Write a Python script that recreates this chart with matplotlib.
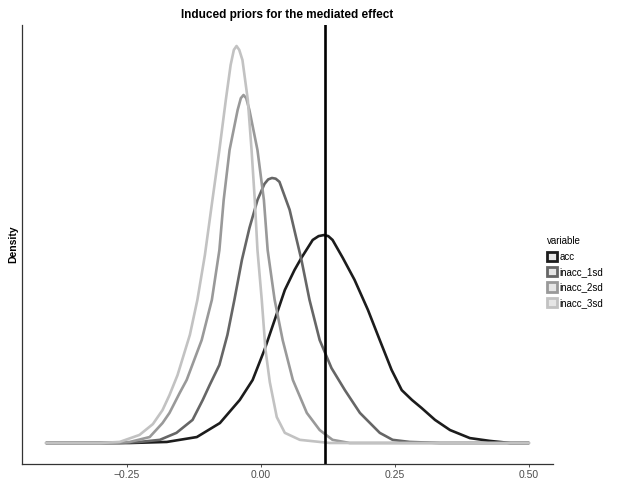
import numpy as np
import matplotlib.pyplot as plt
from matplotlib.patches import Rectangle

plt.rcParams['font.family'] = ['Liberation Sans', 'DejaVu Sans']

# values (effect size, density)
acc_x = [-0.40, -0.244, -0.175, -0.119, -0.076, -0.039, -0.015, 0.007, 0.026, 0.045, 0.063, 0.076,
         0.097, 0.108, 0.118, 0.126, 0.134, 0.153, 0.175, 0.200, 0.222, 0.244, 0.263, 0.282, 0.300,
         0.325, 0.353, 0.390, 0.427, 0.465, 0.50]
acc_y = [0, 0, 0.03, 0.17, 0.57, 1.23, 1.80, 2.66, 3.51, 4.37, 4.94, 5.29,
         5.80, 5.91, 5.94, 5.91, 5.80, 5.29, 4.66, 3.80, 2.94, 2.09, 1.51, 1.23, 1.00,
         0.66, 0.37, 0.14, 0.06, 0, 0]

sd1_x = [-0.40, -0.263, -0.226, -0.188, -0.157, -0.127, -0.108, -0.095, -0.077, -0.062, -0.049,
         -0.035, -0.021, -0.006, 0.007, 0.014, 0.021, 0.028, 0.035, 0.054, 0.065, 0.076, 0.091,
         0.110, 0.132, 0.157, 0.185, 0.222, 0.246, 0.278, 0.334, 0.50]
sd1_y = [0, 0, 0.03, 0.09, 0.29, 0.66, 1.23, 1.66, 2.23, 3.09, 4.09,
         5.23, 6.14, 6.94, 7.40, 7.53, 7.57, 7.55, 7.46, 6.66, 5.94, 5.23, 4.09,
         2.94, 2.14, 1.51, 0.86, 0.29, 0.09, 0.03, 0, 0]

sd2_x = [-0.40, -0.282, -0.244, -0.207, -0.183, -0.170, -0.151, -0.138, -0.110, -0.091, -0.077,
         -0.069, -0.058, -0.043, -0.037, -0.032, -0.027, -0.021, -0.006, 0.006, 0.013, 0.026,
         0.041, 0.060, 0.086, 0.110, 0.134, 0.166, 0.50]
sd2_y = [0, 0, 0.03, 0.17, 0.57, 0.86, 1.43, 1.80, 2.94, 4.09, 5.51,
         6.94, 8.37, 9.51, 9.85, 9.94, 9.85, 9.51, 8.37, 6.94, 5.51, 4.09,
         2.94, 1.80, 0.86, 0.37, 0.09, 0, 0]

sd3_x = [-0.40, -0.300, -0.263, -0.226, -0.201, -0.183, -0.170, -0.155, -0.132, -0.118, -0.104,
         -0.090, -0.077, -0.065, -0.056, -0.050, -0.045, -0.040, -0.034, -0.024, -0.017, -0.011,
         -0.006, 0.002, 0.009, 0.017, 0.030, 0.045, 0.073, 0.129, 0.50]
sd3_y = [0, 0, 0.03, 0.23, 0.54, 0.94, 1.37, 1.94, 3.09, 4.09, 5.37,
         6.94, 8.37, 9.80, 10.80, 11.23, 11.34, 11.23, 10.94, 9.80, 8.37, 6.94,
         5.51, 4.09, 2.66, 1.74, 0.74, 0.29, 0.09, 0, 0]

labels = ['acc', 'inacc_1sd', 'inacc_2sd', 'inacc_3sd']
colors = ['#1c1c1c', '#666666', '#999999', '#c2c2c2']
vline_x = 0.12

fig = plt.figure(figsize=(6.23, 4.8), dpi=100)
ax = fig.add_axes([22 / 623, 16 / 480, 531 / 623, 439 / 480])

series = [(acc_x, acc_y), (sd1_x, sd1_y), (sd2_x, sd2_y), (sd3_x, sd3_y)]
for (x, y), c in zip(series, colors):
    ax.plot(x, y, color=c, lw=1.9, solid_joinstyle='round', solid_capstyle='round')

ax.axvline(vline_x, color='black', lw=1.9)

ax.set_xlim(-0.445, 0.545)
ax.set_ylim(-0.6, 11.94)
ax.set_xticks([-0.25, 0.0, 0.25, 0.50])
ax.set_xticklabels(['\u22120.25', '0.00', '0.25', '0.50'])
ax.set_yticks([])
ax.tick_params(axis='x', length=2.5, width=0.6, color='#333333', labelsize=7.5,
               labelcolor='#4d4d4d', pad=2)
for s in ['top', 'right']:
    ax.spines[s].set_visible(False)
for s in ['left', 'bottom']:
    ax.spines[s].set_color('#333333')
    ax.spines[s].set_linewidth(0.9)

ax.set_ylabel('Density', fontsize=7.5, fontweight='bold', labelpad=3)
ax.set_title('Induced priors for the mediated effect', fontsize=8.5, fontweight='bold', pad=5)

handles = [Rectangle((0, 0), 1, 1, facecolor='#e6e6e6', edgecolor=c, lw=2.0) for c in colors]
leg = fig.legend(handles, labels, title='variable', loc='center left',
                 bbox_to_anchor=(543 / 623, 1 - 272 / 480), frameon=False,
                 fontsize=7, title_fontsize=7, handlelength=1.0, handleheight=1.1,
                 handletextpad=0.3, labelspacing=0.55, borderaxespad=0)
leg._legend_box.align = 'left'

fig.savefig('out.png', dpi=100)
